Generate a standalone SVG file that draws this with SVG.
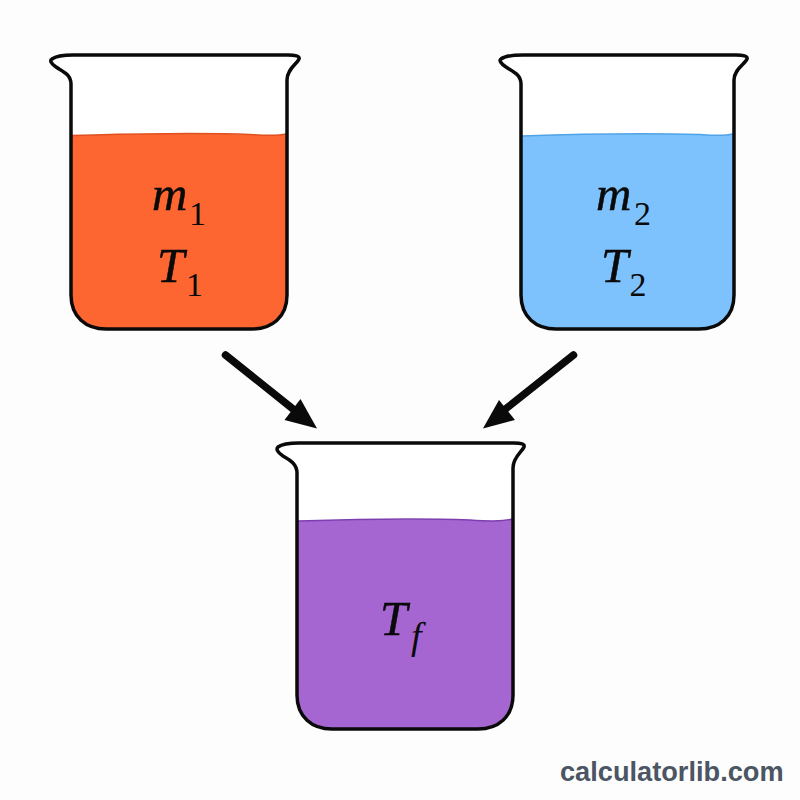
<svg xmlns="http://www.w3.org/2000/svg" width="800" height="800" viewBox="0 0 800 800">
  <style>
    .glass { fill: none; stroke: #0a0a0a; stroke-width: 3.500; stroke-linejoin: round; stroke-linecap: round; }
    .var { font-family: "Liberation Serif", "Times New Roman", serif; font-style: italic; font-size: 49px; fill: #0a0a0a; stroke: #0a0a0a; stroke-width: 0.500; }
    .sub { font-family: "Liberation Serif", "Times New Roman", serif; font-size: 34px; fill: #0a0a0a; }
    .subi { font-style: italic; font-size: 38px; }
    .shaft { stroke: #0a0a0a; stroke-width: 7.500; stroke-linecap: round; fill: none; }
    .head { fill: #0a0a0a; }
    .brand { font-family: "Liberation Sans", Arial, sans-serif; font-weight: bold; font-size: 27.200px; fill: #4b5563; }
  </style>
  <rect width="800" height="800" fill="#fdfdfd"/>

  <g id="beaker-hot">
    <path d="M71 84C71 74 62 71 56 67C50 63 50 60 52 59C56 56 62 55 73 55H288C295 55 300 56 299 59C297 64 287 69 287 80V295C287 317 272 329 252 329H106C86 329 71 317 71 295Z" fill="#ffffff"/>
    <path d="M72 135.500C130 133.500 210 133 250 134.500C265 135.500 278 136 286 134V295C286 316 271 328 252 328H106C87 328 72 316 72 295Z" fill="#fe6631"/>
    <path d="M72 135.500C130 133.500 210 133 250 134.500C265 135.500 278 136 286 134" fill="none" stroke="#e0501f" stroke-width="1.500"/>
    <path class="glass" d="M71 84C71 74 62 71 56 67C50 63 50 60 52 59C56 56 62 55 73 55H288C295 55 300 56 299 59C297 64 287 69 287 80V295C287 317 272 329 252 329H106C86 329 71 317 71 295Z"/>
    <text class="var" x="152" y="210">m</text>
    <text class="sub" x="189" y="225">1</text>
    <text class="var" x="157" y="282">T</text>
    <text class="sub" x="186" y="296">1</text>
  </g>

  <g id="beaker-cold">
    <path d="M521 84C521 74 512 71 506 67C500 63 499 60 501 59C505 56 511 55 523 55H736C743 55 748 56 747 59C745 64 734 69 734 80V295C734 317 719 329 699 329H556C536 329 521 317 521 295Z" fill="#ffffff"/>
    <path d="M522 136C580 134 660 133.500 700 134.500C712 135.500 725 136 733 134V295C733 316 718 328 699 328H556C537 328 522 316 522 295Z" fill="#7dc2fd"/>
    <path d="M522 136C580 134 660 133.500 700 134.500C712 135.500 725 136 733 134" fill="none" stroke="#4fa3e8" stroke-width="1.500"/>
    <path class="glass" d="M521 84C521 74 512 71 506 67C500 63 499 60 501 59C505 56 511 55 523 55H736C743 55 748 56 747 59C745 64 734 69 734 80V295C734 317 719 329 699 329H556C536 329 521 317 521 295Z"/>
    <text class="var" x="596" y="210">m</text>
    <text class="sub" x="634" y="225">2</text>
    <text class="var" x="601" y="282">T</text>
    <text class="sub" x="629.500" y="296">2</text>
  </g>

  <g id="beaker-mixed">
    <path d="M297 473C297 463 288 459 283 456C277 452 276 449 278 447C282 444 288 443 299 443H514C521 443 525 444 524 447C522 452 513 457 513 468V695C513 717 498 729 478 729H332C312 729 297 717 297 695Z" fill="#ffffff"/>
    <path d="M298 521C360 519 430 518.500 470 520C485 521 503 522 512 519V695C512 716 497 728 478 728H332C313 728 298 716 298 695Z" fill="#a666d2"/>
    <path d="M298 521C360 519 430 518.500 470 520C485 521 503 522 512 519" fill="none" stroke="#7d3fb0" stroke-width="1.500"/>
    <path class="glass" d="M297 473C297 463 288 459 283 456C277 452 276 449 278 447C282 444 288 443 299 443H514C521 443 525 444 524 447C522 452 513 457 513 468V695C513 717 498 729 478 729H332C312 729 297 717 297 695Z"/>
    <text class="var" x="380" y="635">T</text>
    <text class="sub subi" x="411" y="649">f</text>
  </g>

  <g id="connectors">
    <line class="shaft" x1="225.500" y1="355" x2="298" y2="413"/>
    <polygon class="head" points="317,428.500 300.500,399 284.500,420"/>
    <line class="shaft" x1="573.500" y1="355" x2="503" y2="411"/>
    <polygon class="head" points="483,428.500 499,400 515,420"/>
  </g>

  <text class="brand" x="560" y="781">calculatorlib.com</text>
</svg>
